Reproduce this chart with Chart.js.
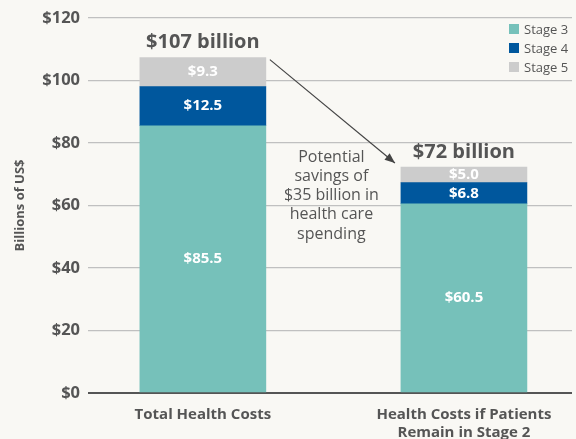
<!DOCTYPE html>
<html>
<head>
<meta charset="utf-8">
<script src="https://cdn.jsdelivr.net/npm/chart.js@4"></script>
<style>
  html, body { margin: 0; padding: 0; background: #f9f8f4; }
  #wrap { width: 576px; height: 439px; }
</style>
</head>
<body>
<div id="wrap"><canvas id="myChart" width="576" height="439"></canvas></div>
<script>
const categories = [['Total Health Costs'], ['Health Costs if Patients', 'Remain in Stage 2']];
const stageNames = ['Stage 3', 'Stage 4', 'Stage 5'];
const stage3 = [85.5, 60.5];
const stage4 = [12.5, 6.8];
const stage5 = [9.3, 5.0];
const yTicks = [0, 20, 40, 60, 80, 100, 120];
const noteLines = ['Potential', 'savings of', '$35 billion in', 'health care', 'spending'];

const colors = ['#76c1ba', '#00579d', '#cccccc'];
const grey = '#555555';
const font = 'Open Sans';

function points(arr) {
    return arr.map((v, i) => ({ x: i, y: v }));
}

// labels inside bars, totals, arrow + note, legend
const extras = {
    id: 'extras',
    afterDatasetsDraw(chart) {
        const c = chart.ctx;
        c.save();
        c.textAlign = 'center';
        c.textBaseline = 'middle';
        c.fillStyle = '#ffffff';
        c.font = 'bold 15px "' + font + '"';
        chart.data.datasets.forEach((ds, d) => {
            chart.getDatasetMeta(d).data.forEach((el, i) => {
                c.fillText('$' + ds.data[i].y.toFixed(1), el.x, (el.y + el.base) / 2);
            });
        });

        // totals above bars
        const tops = chart.getDatasetMeta(2).data;
        c.fillStyle = grey;
        c.font = 'bold 20px "' + font + '"';
        tops.forEach((el, i) => {
            const total = stage3[i] + stage4[i] + stage5[i];
            c.fillText('$' + Math.round(total) + ' billion', el.x, el.y - 15);
        });

        // arrow from first bar to second
        const a = tops[0], b = tops[1];
        const x1 = a.x + a.width / 2 + 4, y1 = a.y + 2;
        const x2 = b.x - b.width / 2 - 6, y2 = b.y - 4;
        c.strokeStyle = '#444';
        c.lineWidth = 1.2;
        c.beginPath();
        c.moveTo(x1, y1);
        c.lineTo(x2, y2);
        c.stroke();
        const ang = Math.atan2(y2 - y1, x2 - x1);
        c.fillStyle = '#444';
        c.beginPath();
        c.moveTo(x2, y2);
        c.lineTo(x2 - 11 * Math.cos(ang - 0.38), y2 - 11 * Math.sin(ang - 0.38));
        c.lineTo(x2 - 11 * Math.cos(ang + 0.38), y2 - 11 * Math.sin(ang + 0.38));
        c.closePath();
        c.fill();

        // note text
        c.fillStyle = grey;
        c.font = '16px "' + font + '"';
        const nx = (x1 + x2) / 2 - 1;
        noteLines.forEach((t, k) => c.fillText(t, nx, 157 + k * 19.3));

        // legend
        c.textAlign = 'left';
        c.font = '13px "' + font + '"';
        stageNames.forEach((n, k) => {
            const ly = 29 + k * 19;
            c.fillStyle = colors[k];
            c.fillRect(509, ly - 5, 10, 10);
            c.fillStyle = grey;
            c.fillText(n, 524, ly + 1);
        });
        c.restore();
    }
};

const ctx = document.getElementById('myChart');
const myChart = new Chart(ctx, {
    type: 'bar',
    data: {
        datasets: [
            { label: stageNames[0], data: points(stage3), backgroundColor: colors[0] },
            { label: stageNames[1], data: points(stage4), backgroundColor: colors[1] },
            { label: stageNames[2], data: points(stage5), backgroundColor: colors[2] }
        ]
    },
    plugins: [extras],
    options: {
        responsive: false,
        animation: false,
        barThickness: 126,
        layout: { padding: { top: 17, right: 4, left: 12, bottom: 0 } },
        plugins: {
            legend: { display: false },
            tooltip: { enabled: false }
        },
        scales: {
            x: {
                type: 'linear',
                stacked: true,
                offset: false,
                min: -0.44,
                max: 1.414,
                grid: { display: false, offset: false },
                border: { display: false },
                afterBuildTicks: (s) => { s.ticks = categories.map((_, i) => ({ value: i })); },
                afterFit: (s) => { s.height = 46; },
                ticks: {
                    autoSkip: false,
                    maxRotation: 0,
                    padding: 5,
                    color: grey,
                    font: { family: font, size: 15, weight: 'bold', lineHeight: 1.2 },
                    callback: (v) => categories[v]
                }
            },
            y: {
                stacked: true,
                min: 0,
                max: 120,
                afterBuildTicks: (s) => { s.ticks = yTicks.map(v => ({ value: v })); },
                afterFit: (s) => { s.width = 76; },
                border: { display: false },
                grid: {
                    drawTicks: false,
                    color: (c) => c.tick.value === 0 ? '#555555' : '#c0c0c0',
                    lineWidth: (c) => c.tick.value === 0 ? 2 : 1.3
                },
                ticks: {
                    padding: 8,
                    color: grey,
                    font: { family: font, size: 16.5, weight: 'bold' },
                    callback: (v) => '$' + v
                },
                title: {
                    display: true,
                    text: 'Billions of US$',
                    color: grey,
                    padding: { top: 0, bottom: 6 },
                    font: { family: font, size: 13, weight: 'bold' }
                }
            }
        }
    }
});
</script>
</body>
</html>
